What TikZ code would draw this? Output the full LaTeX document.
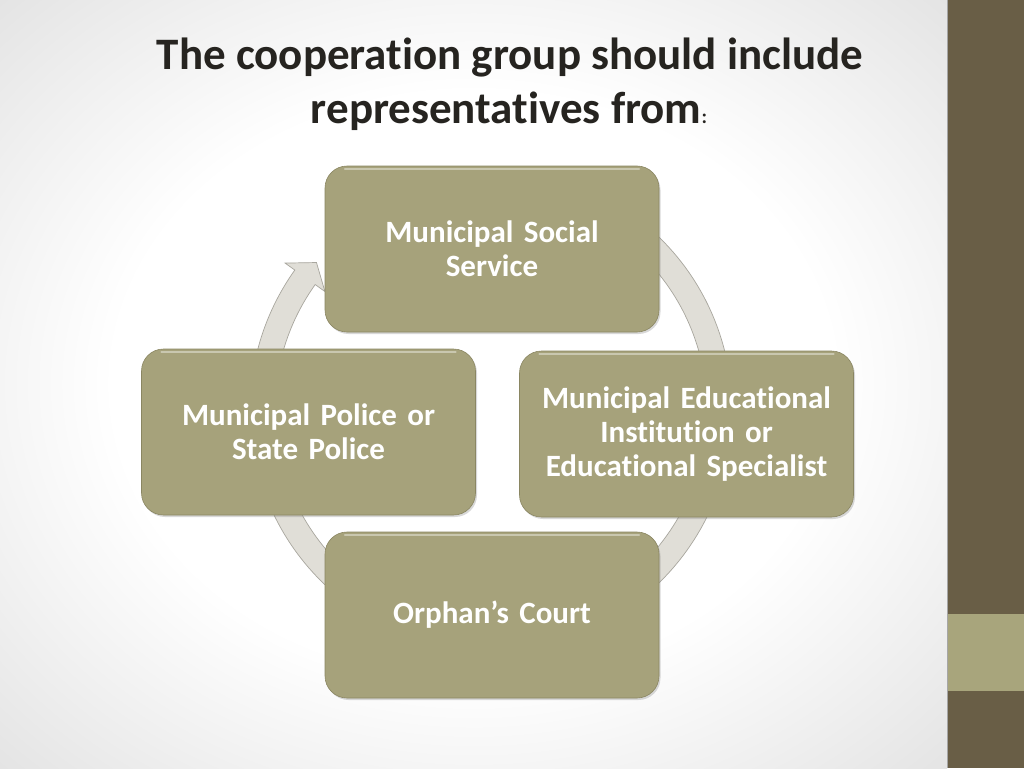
\documentclass[tikz,border=0pt]{standalone}
\usepackage{fontspec}
\setmainfont{Carlito}[Ligatures=NoCommon]
\usetikzlibrary{shadows}
\definecolor{boxfill}{RGB}{166,162,123}
\definecolor{boxedge}{RGB}{138,134,98}
\definecolor{sidedark}{RGB}{105,94,70}
\definecolor{sidelight}{RGB}{168,165,124}
\definecolor{ringfill}{RGB}{224,222,215}
\definecolor{ringedge}{RGB}{168,166,158}
\definecolor{titlecol}{RGB}{38,36,32}
\pgfdeclareradialshading{vignette}{\pgfpoint{0bp}{0bp}}{color(0bp)=(white); color(19bp)=(white); color(36bp)=(black!11); color(50bp)=(black!11)}
\begin{document}
\begin{tikzpicture}[x=1pt,y=-1pt,
  item/.style={draw=boxedge, line width=0.6pt, fill=boxfill, rounded corners=22pt,
    minimum width=334pt, minimum height=166pt, text width=322pt, align=center,
    inner sep=0pt, text=white, font=\fontsize{31}{34}\selectfont\bfseries,
    drop shadow={shadow xshift=1.5pt, shadow yshift=-2pt, opacity=0.3},
    path picture={\draw[white,opacity=0.4,line width=2.5pt,line cap=round]
      ([xshift=20pt,yshift=-3pt]path picture bounding box.north west) --
      ([xshift=-20pt,yshift=-3pt]path picture bounding box.north east);}},
  titletext/.style={anchor=base, text=titlecol, font=\fontsize{45}{53}\selectfont\bfseries, inner sep=0pt},
  ring/.style={fill=ringfill, draw=ringedge, line width=0.7pt}]
\useasboundingbox (0,0) rectangle (1024,768);
% background
\shade[shading=vignette] (0,0) rectangle (947,768);
\fill[sidedark] (947,0) rectangle (1024,768);
\fill[sidelight] (947,614) rectangle (1024,691);
\draw[black!35, line width=0.6pt] (947,0) -- (947,768);
% title
\node[titletext] (t1) at (510,70) {The cooperation group should include};
\node[titletext] (t2) at (509,123) {representatives from{\fontsize{20}{24}\selectfont :}};
% cycle ring with arrowhead
\begin{scope}[shift={(491,410)}]
\path[ring] (255:241) arc[start angle=255, end angle=575.5, radius=241]
  -- (575.5:253) -- (580.2:228.5) -- (575.5:204) -- (575.5:216)
  arc[start angle=575.5, end angle=255, radius=216] -- cycle;
\end{scope}
% boxes
\node[item] (social) at (492,249) {Municipal Social\\Service};
\node[item] (police) at (308.5,432) {Municipal Police or\\State Police};
\node[item] (edu) at (686.5,434) {Municipal Educational\\Institution or\\Educational Specialist};
\node[item] (court) at (492,615) {Orphan’s Court};
\end{tikzpicture}
\end{document}
